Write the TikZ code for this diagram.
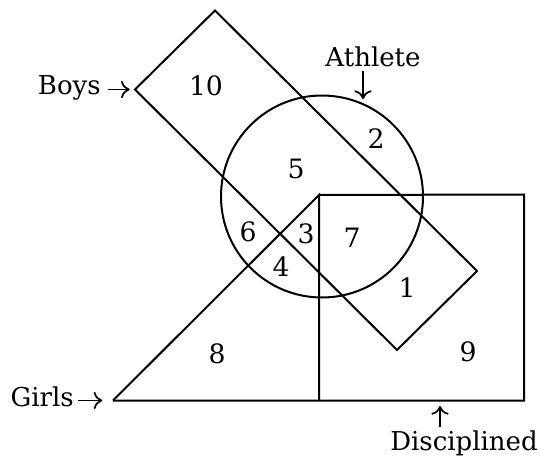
\documentclass[tikz,border=0pt]{standalone}
\usepackage{fontspec}
\setmainfont{DejaVu Serif}
\usetikzlibrary{arrows.meta}
\begin{document}
\begin{tikzpicture}[x=0.75pt,y=-0.75pt,
  outline/.style={draw=black,line width=1.5pt,line join=miter},
  lbl/.style={font=\fontsize{19.5}{23}\selectfont,inner sep=0pt},
  num/.style={font=\fontsize{20}{24}\selectfont,inner sep=0pt},
  arr/.style={draw=black,line width=1.3pt,-{To[length=6.5pt,width=13pt]}}]
\useasboundingbox (0,0) rectangle (540,464);
% Boys rectangle corners
\coordinate (T) at (215,10.5);
\coordinate (L) at (135,89.5);
\coordinate (B) at (397,350);
\coordinate (R) at (477,271);
% Girls triangle / Disciplined square
\coordinate (G) at (113,400.5);
\coordinate (A) at (319,195);
\coordinate (Ab) at (319,400.5);
\coordinate (Str) at (524,194.5);
\coordinate (Sbr) at (524,400.5);
% arrow tips
\coordinate (atip) at (363,99);
\coordinate (dtip) at (440,406);

\draw[outline] (T) -- (R) -- (B) -- (L) -- cycle;
\draw[outline] (322,196.5) circle[radius=101];
\draw[outline] (G) -- (A) -- (Ab);
\draw[outline] (A) -- (Str) -- (Sbr) -- (G);

\node[lbl,anchor=east] (boys) at (101,88) {Boys};
\node[lbl,anchor=east] (girls) at (74,397) {Girls};
\node[lbl] (ath) at (373,57) {Athlete};
\node[lbl] (disc) at (464,443) {Disciplined};

\draw[arr,shorten <=5pt,shorten >=4pt] (boys.east |- L) -- (L);
\draw[arr,shorten <=3pt,shorten >=8pt] (girls.east |- G) -- (G);
\draw[arr] (ath.south -| atip) ++(0,4) -- (atip);
\draw[arr] (disc.north -| dtip) ++(0,-3) -- (dtip);

\node[num] (n10) at (206,86) {10};
\node[num] (n2) at (376,139) {2};
\node[num] (n5) at (296,169) {5};
\node[num] (n6) at (248,232) {6};
\node[num] (n3) at (306,234) {3};
\node[num] (n7) at (352,238) {7};
\node[num] (n4) at (281,267) {4};
\node[num] (n1) at (407,288) {1};
\node[num] (n8) at (217,354) {8};
\node[num] (n9) at (468,352) {9};
\end{tikzpicture}
\end{document}
